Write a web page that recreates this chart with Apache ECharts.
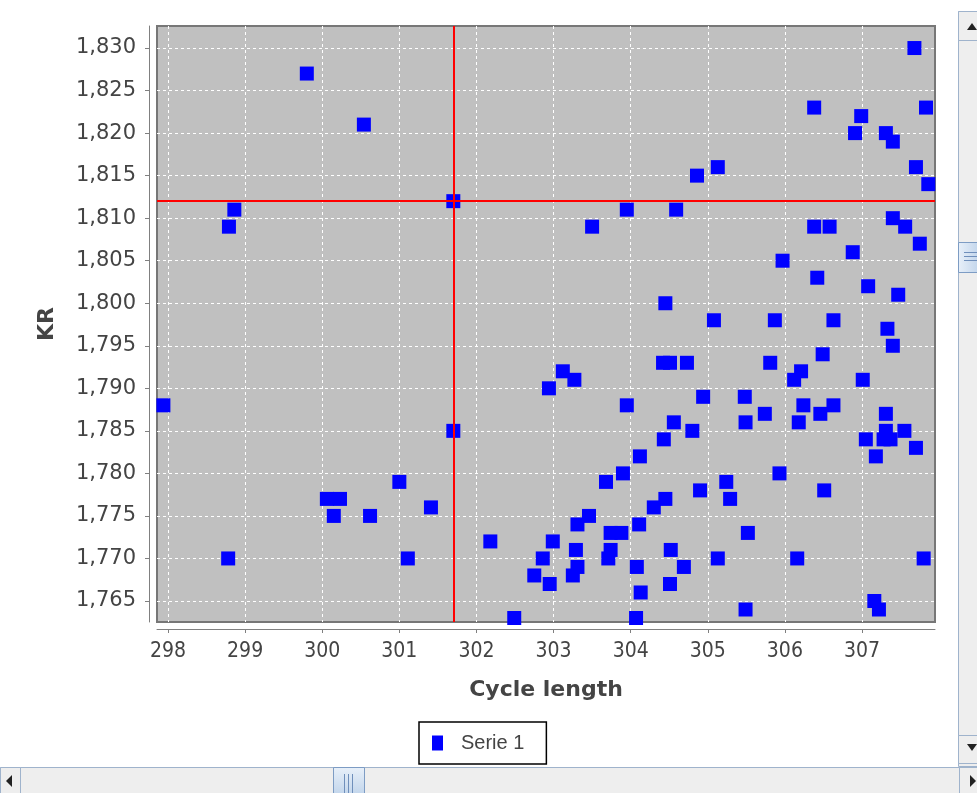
<!DOCTYPE html>
<html>
<head>
<meta charset="utf-8">
<script src="https://cdn.jsdelivr.net/npm/echarts@6/dist/echarts.min.js"></script>
<style>
  html, body { margin: 0; padding: 0; background: #fff; }
  #main { width: 977px; height: 793px; }
</style>
</head>
<body>
<div id="main"></div>
<script>
// cycle length (x) and KR (y) of each point
const cycleLength = [
  304.04, 299.80, 300.54, 298.86, 298.79, 301.70, 297.94, 301.70, 300.06, 300.23,
  300.15, 300.62, 301.00, 301.41, 301.11, 298.78, 298.00, 300.75, 302.18, 302.49,
  302.75, 302.86, 302.95, 302.99, 302.94, 303.12, 303.27, 303.31, 303.46, 303.29,
  303.31, 303.25, 303.50, 303.68, 303.74, 303.71, 303.74, 303.88, 303.90, 303.95,
  303.95, 304.07, 303.74, 304.11, 304.08, 304.13, 304.12, 304.30, 304.45, 304.43,
  304.56, 304.45, 304.42, 304.51, 304.73, 304.51, 304.52, 304.69, 304.59, 304.80,
  304.86, 304.90, 304.94, 305.08, 305.13, 305.13, 305.24, 305.29, 305.22, 305.48,
  305.49, 305.52, 305.49, 305.74, 305.81, 305.87, 305.93, 305.97, 306.12, 306.18,
  306.16, 306.21, 306.24, 306.38, 306.38, 306.42, 306.46, 306.51, 306.49, 306.58,
  306.63, 306.63, 306.88, 306.91, 306.99, 307.01, 307.08, 307.05, 307.16, 307.22,
  307.18, 307.31, 307.33, 307.31, 307.31, 307.28, 307.40, 307.40, 307.37, 307.40,
  307.47, 307.55, 307.56, 307.68, 307.70, 307.70, 307.75, 307.83, 307.86, 307.80,
  307.96
];
const kr = [
  1.833, 1.827, 1.821, 1.811, 1.809, 1.812, 1.788, 1.785, 1.777, 1.777,
  1.775, 1.775, 1.779, 1.776, 1.770, 1.770, 1.762, 1.762, 1.772, 1.763,
  1.768, 1.770, 1.767, 1.772, 1.790, 1.792, 1.791, 1.774, 1.775, 1.771,
  1.769, 1.768, 1.809, 1.779, 1.771, 1.770, 1.773, 1.773, 1.780, 1.788,
  1.811, 1.763, 1.762, 1.774, 1.769, 1.766, 1.782, 1.776, 1.777, 1.784,
  1.786, 1.800, 1.793, 1.793, 1.793, 1.767, 1.771, 1.769, 1.811, 1.785,
  1.815, 1.778, 1.789, 1.798, 1.816, 1.770, 1.779, 1.777, 1.762, 1.789,
  1.786, 1.773, 1.764, 1.787, 1.793, 1.798, 1.780, 1.805, 1.791, 1.786,
  1.770, 1.792, 1.788, 1.823, 1.809, 1.803, 1.787, 1.778, 1.794, 1.809,
  1.798, 1.788, 1.806, 1.820, 1.822, 1.791, 1.802, 1.784, 1.765, 1.764,
  1.782, 1.820, 1.797, 1.787, 1.785, 1.784, 1.819, 1.795, 1.784, 1.810,
  1.801, 1.785, 1.809, 1.830, 1.816, 1.783, 1.807, 1.823, 1.814, 1.770,
  1.788
];
const xTicks = [298, 299, 300, 301, 302, 303, 304, 305, 306, 307];
const yTicks = [1.765, 1.770, 1.775, 1.780, 1.785, 1.790, 1.795, 1.800,
  1.805, 1.810, 1.815, 1.820, 1.825, 1.830];
const crossX = 301.7;
const crossY = 1.812;
const seriesName = 'Serie 1';

const chart = echarts.init(document.getElementById('main'));

const points = cycleLength.map((x, i) => [x, kr[i]]);

const gray = '#808080';
const barFill = '#eeeeee';
const barStroke = '#9fb3cc';

function scrollBars() {
  const els = [];
  // vertical bar on the right
  els.push({ type: 'rect', shape: { x: 958.5, y: 11.5, width: 19, height: 755 },
    style: { fill: barFill, stroke: barStroke } });
  els.push({ type: 'rect', shape: { x: 958.5, y: 11.5, width: 19, height: 29 },
    style: { fill: barFill, stroke: barStroke } });
  els.push({ type: 'polygon', shape: { points: [[967, 30], [977, 30], [972, 23]] },
    style: { fill: '#222' } });
  els.push({ type: 'rect', shape: { x: 958.5, y: 735.5, width: 19, height: 28 },
    style: { fill: barFill, stroke: barStroke } });
  els.push({ type: 'polygon', shape: { points: [[967, 744], [977, 744], [972, 751]] },
    style: { fill: '#222' } });
  els.push({ type: 'rect', shape: { x: 958.5, y: 242.5, width: 19, height: 30 },
    style: {
      fill: new echarts.graphic.LinearGradient(0, 0, 1, 0, [
        { offset: 0, color: '#e8f0f9' }, { offset: 1, color: '#c3d6ec' }]),
      stroke: '#7d9cc4'
    } });
  [252, 256, 260].forEach(y => {
    els.push({ type: 'line', shape: { x1: 964, y1: y + 0.5, x2: 977, y2: y + 0.5 },
      style: { stroke: '#6f8fbb', lineWidth: 1 } });
  });
  // horizontal bar at the bottom
  els.push({ type: 'rect', shape: { x: 0.5, y: 767.5, width: 977, height: 26 },
    style: { fill: barFill, stroke: barStroke } });
  els.push({ type: 'rect', shape: { x: 0.5, y: 767.5, width: 20, height: 26 },
    style: { fill: barFill, stroke: barStroke } });
  els.push({ type: 'polygon', shape: { points: [[6, 781], [12, 775], [12, 787]] },
    style: { fill: '#222' } });
  els.push({ type: 'rect', shape: { x: 959.5, y: 767.5, width: 18, height: 26 },
    style: { fill: barFill, stroke: barStroke } });
  els.push({ type: 'polygon', shape: { points: [[976, 781], [970, 775], [970, 787]] },
    style: { fill: '#222' } });
  els.push({ type: 'rect', shape: { x: 333.5, y: 767.5, width: 31, height: 26 },
    style: {
      fill: new echarts.graphic.LinearGradient(0, 0, 0, 1, [
        { offset: 0, color: '#e8f0f9' }, { offset: 1, color: '#c3d6ec' }]),
      stroke: '#7d9cc4'
    } });
  [344, 348, 352].forEach(x => {
    els.push({ type: 'line', shape: { x1: x + 0.5, y1: 774, x2: x + 0.5, y2: 793 },
      style: { stroke: '#6f8fbb', lineWidth: 1 } });
  });
  return els;
}

const option = {
  animation: false,
  backgroundColor: '#ffffff',
  grid: {
    left: 157,
    right: 42,
    top: 26,
    bottom: 171,
    show: true,
    backgroundColor: '#c0c0c0',
    borderColor: '#777777',
    borderWidth: 2
  },
  legend: {
    data: [{ name: seriesName, icon: 'rect' }],
    left: 419,
    top: 722,
    itemWidth: 11,
    itemHeight: 15,
    itemGap: 10,
    padding: [11, 22, 11, 13],
    backgroundColor: '#ffffff',
    borderColor: '#000000',
    borderWidth: 1.5,
    borderRadius: 0,
    textStyle: {
      fontFamily: 'Liberation Sans',
      fontSize: 20,
      color: '#444444',
      padding: [0, 0, 0, 13]
    }
  },
  xAxis: {
    type: 'value',
    min: 297.857,
    max: 307.947,
    offset: 7,
    name: 'Cycle length',
    nameLocation: 'middle',
    nameGap: 50,
    nameTextStyle: {
      fontFamily: 'DejaVu Sans',
      fontSize: 22,
      fontWeight: 'bold',
      color: '#444444'
    },
    axisLine: { show: true, lineStyle: { color: gray, width: 1 } },
    axisTick: { show: true, length: 4, customValues: xTicks, lineStyle: { color: gray } },
    axisLabel: {
      customValues: xTicks,
      margin: 12,
      fontFamily: 'DejaVu Sans Condensed, DejaVu Sans',
      fontSize: 21,
      color: '#444444',
      formatter: v => String(Math.round(v))
    },
    splitLine: {
      show: true,
      lineStyle: { color: '#ffffff', type: [3, 3], width: 1 }
    }
  },
  yAxis: {
    type: 'value',
    min: 1.76253,
    max: 1.83259,
    offset: 8,
    name: 'KR',
    nameLocation: 'middle',
    nameGap: 91,
    nameRotate: 90,
    nameTextStyle: {
      fontFamily: 'DejaVu Sans',
      fontSize: 22,
      fontWeight: 'bold',
      color: '#444444'
    },
    axisLine: { show: true, lineStyle: { color: gray, width: 1 } },
    axisTick: { show: true, length: 4, customValues: yTicks, lineStyle: { color: gray } },
    axisLabel: {
      customValues: yTicks,
      margin: 13,
      fontFamily: 'DejaVu Sans',
      fontSize: 21,
      color: '#444444',
      formatter: v => v.toFixed(3).replace('.', ',')
    },
    splitLine: {
      show: true,
      lineStyle: { color: '#ffffff', type: [3, 3], width: 1 }
    }
  },
  series: [{
    name: seriesName,
    type: 'scatter',
    symbol: 'rect',
    symbolSize: 14,
    clip: true,
    itemStyle: { color: '#0000ff', opacity: 1 },
    data: points,
    markLine: {
      silent: true,
      symbol: 'none',
      precision: 4,
      label: { show: false },
      lineStyle: { color: '#ff0000', type: 'solid', width: 2 },
      data: [{ xAxis: crossX }, { yAxis: crossY }]
    }
  }],
  graphic: scrollBars()
};

chart.setOption(option);
</script>
</body>
</html>
